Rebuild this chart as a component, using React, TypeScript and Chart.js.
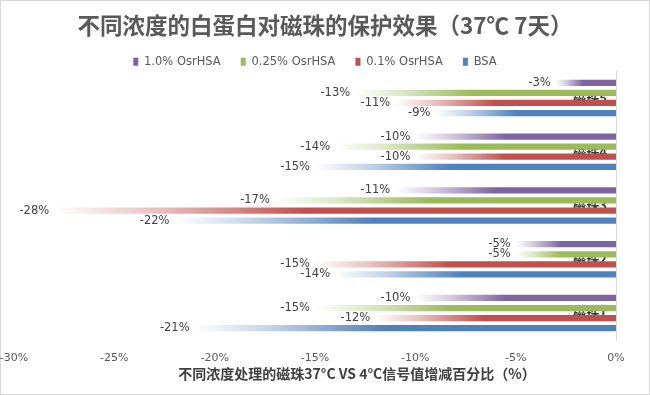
import React, { useEffect, useRef } from 'react';
import { Chart, registerables } from 'chart.js';

Chart.register(...registerables);

const categories = ['磁珠5', '磁珠4', '磁珠3', '磁珠2', '磁珠1'];
const seriesNames = ['1.0% OsrHSA', '0.25% OsrHSA', '0.1% OsrHSA', 'BSA'];
const osr10 = [-3, -10, -11, -5, -10];
const osr025 = [-13, -14, -17, -5, -15];
const osr01 = [-11, -10, -28, -15, -12];
const bsa = [-9, -15, -22, -14, -21];
const seriesColors = ['#8064A2', '#9BBB59', '#C0504D', '#4F81BD'];
const xMin = -30;
const xMax = 0;
const xStep = 5;
const titleText = '不同浓度的白蛋白对磁珠的保护效果（37℃ 7天）';
const xTitleText = '不同浓度处理的磁珠37°C VS 4°C信号值增减百分比（%）';

const seriesValues = [osr10, osr025, osr01, bsa];

function hexToRgb(hex: string) {
  const h = hex.replace('#', '');
  return [parseInt(h.slice(0, 2), 16), parseInt(h.slice(2, 4), 16), parseInt(h.slice(4, 6), 16)];
}

function gradientBg(hex: string) {
  const [r, g, b] = hexToRgb(hex);
  return (ctx: any) => {
    const chart = ctx.chart;
    const v = ctx.raw;
    const xs = chart.scales && chart.scales.x;
    if (typeof v !== 'number' || !xs || !chart.chartArea) return hex;
    const p0 = xs.getPixelForValue(0);
    const p1 = xs.getPixelForValue(v);
    if (!isFinite(p0) || !isFinite(p1) || p0 === p1) return hex;
    const grad = chart.ctx.createLinearGradient(p1, 0, p0, 0);
    grad.addColorStop(0, `rgba(${r},${g},${b},0)`);
    grad.addColorStop(0.18, `rgba(${r},${g},${b},0.35)`);
    grad.addColorStop(0.45, `rgba(${r},${g},${b},1)`);
    grad.addColorStop(1, `rgba(${r},${g},${b},1)`);
    return grad;
  };
}

const decorPlugin = {
  id: 'decor',
  beforeDraw(chart: any) {
    const c = chart.ctx;
    c.save();
    c.fillStyle = '#ffffff';
    c.fillRect(0, 0, chart.width, chart.height);
    c.strokeStyle = '#d9d9d9';
    c.lineWidth = 1;
    c.strokeRect(0.5, 0.5, chart.width - 1, chart.height - 1);
    c.font = 'bold 22.5px "Noto Sans CJK SC", sans-serif';
    c.fillStyle = '#595959';
    c.textAlign = 'center';
    c.textBaseline = 'middle';
    c.fillText(titleText, 325, 25);
    c.restore();
  },
  afterDatasetsDraw(chart: any) {
    const c = chart.ctx;
    c.save();
    c.font = '11.5px "DejaVu Sans", sans-serif';
    c.fillStyle = '#404040';
    c.textAlign = 'right';
    c.textBaseline = 'middle';
    chart.data.datasets.forEach((ds: any, di: number) => {
      const meta = chart.getDatasetMeta(di);
      meta.data.forEach((el: any, i: number) => {
        const v = ds.data[i];
        c.fillText(`${v}%`, el.x - 5, el.y);
      });
    });
    c.restore();
  },
  afterDraw(chart: any) {
    const c = chart.ctx;
    c.save();
    c.font = 'bold 14px "Noto Sans CJK SC", sans-serif';
    c.fillStyle = '#404040';
    c.textAlign = 'center';
    c.textBaseline = 'middle';
    c.fillText(xTitleText, 357, 374);
    c.restore();
  },
};

export default function App() {
  const ref = useRef<HTMLCanvasElement | null>(null);
  useEffect(() => {
    document.body.style.margin = '0';
    const canvas = ref.current;
    if (!canvas) return;
    const chart = new Chart(canvas, {
      type: 'bar',
      data: {
        labels: categories,
        datasets: seriesNames.map((name, i) => ({
          label: name,
          data: seriesValues[i],
          backgroundColor: gradientBg(seriesColors[i]),
          borderWidth: 0,
          categoryPercentage: 0.75,
          barPercentage: 0.62,
        })),
      },
      options: {
        indexAxis: 'y',
        animation: false,
        responsive: false,
        maintainAspectRatio: false,
        layout: { padding: { left: 14, right: 34, top: 36, bottom: 25 } },
        plugins: {
          title: { display: false },
          legend: {
            display: true,
            position: 'top',
            maxHeight: 35,
            labels: {
              boxWidth: 5,
              boxHeight: 8,
              padding: 20,
              color: '#595959',
              font: { size: 11.5, family: '"DejaVu Sans", sans-serif' },
              generateLabels: (chart: any) => {
                const base = Chart.defaults.plugins.legend.labels.generateLabels(chart);
                return base.map((item: any, i: number) => ({
                  ...item,
                  fillStyle: seriesColors[i],
                  strokeStyle: seriesColors[i],
                  lineWidth: 0,
                }));
              },
            },
          },
          tooltip: { enabled: false },
        },
        scales: {
          x: {
            type: 'linear',
            min: xMin,
            max: xMax,
            afterFit: (s: any) => {
              s.paddingLeft = 0;
              s.paddingRight = 0;
              s.height = 30;
            },
            ticks: {
              stepSize: xStep,
              padding: 12,
              color: '#595959',
              font: { size: 11, family: '"DejaVu Sans", sans-serif' },
              callback: (v: any) => `${v}%`,
            },
            grid: { display: false, drawTicks: false },
            border: { display: false },
          },
          y: {
            type: 'category',
            position: 'right',
            z: 1,
            afterFit: (s: any) => {
              s.width = 0;
            },
            ticks: {
              mirror: true,
              padding: -9,
              color: '#3a3a3a',
              font: { size: 13, weight: 'bold', family: '"Noto Sans CJK SC", sans-serif' },
            },
            grid: { display: false, drawTicks: false },
            border: { display: true, color: '#d9d9d9', width: 1 },
          },
        },
      },
      plugins: [decorPlugin],
    });
    return () => chart.destroy();
  }, []);
  return (
    <div style={{ width: 650, height: 395 }}>
      <canvas ref={ref} width={650} height={395} style={{ display: 'block', width: 650, height: 395 }} />
    </div>
  );
}
